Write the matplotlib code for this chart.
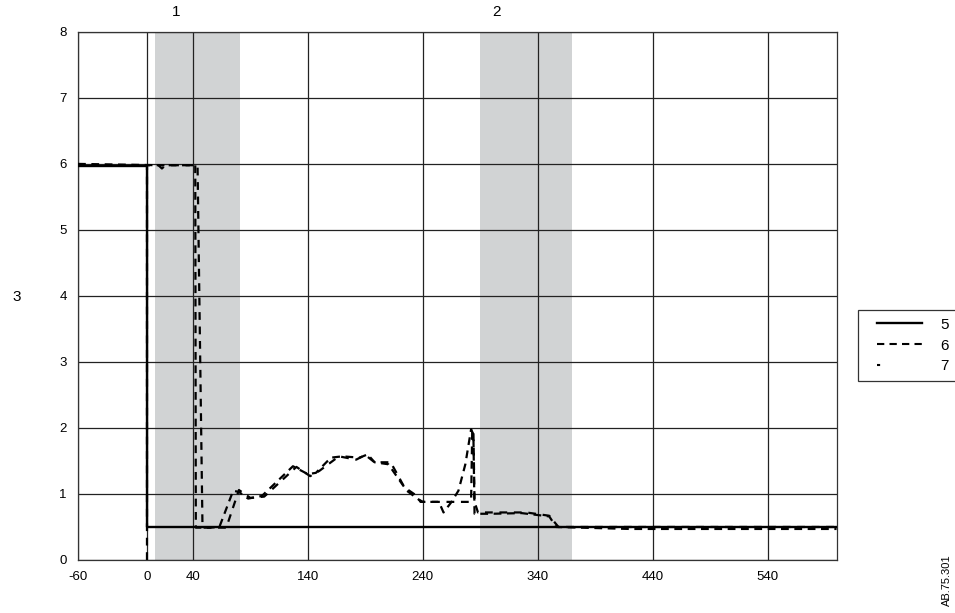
import matplotlib.pyplot as plt
from matplotlib.lines import Line2D
from matplotlib.legend_handler import HandlerLine2D

plt.rcParams['font.family'] = ['Liberation Sans', 'DejaVu Sans']
plt.rcParams['axes.unicode_minus'] = False

# series 5 (solid)
x5 = [-60, 0, 0, 600]
y5 = [5.97, 5.97, 0.5, 0.5]

# series 6 (dashed)
x6 = [-60, 10, 13, 16, 42, 42.5, 55, 63, 75, 80, 88, 100, 127, 140, 147, 160, 170,
      185, 192, 198, 210, 218, 226, 236, 240, 254, 258, 265, 271, 277, 282, 284,
      285, 300, 326, 350, 356, 420, 600]
y6 = [6.0, 5.98, 5.93, 5.98, 5.98, 0.49, 0.49, 0.5, 1.05, 1.03, 0.93, 0.97, 1.42,
      1.3, 1.32, 1.55, 1.57, 1.55, 1.6, 1.48, 1.45, 1.25, 1.05, 0.92, 0.88, 0.88,
      0.72, 0.88, 1.05, 1.45, 1.98, 1.9, 0.7, 0.7, 0.71, 0.66, 0.5, 0.47, 0.47]

# series 7 (sparse dashes)
x7 = [0, 0, 44, 48.3, 69, 80, 90, 102, 130, 142, 150, 167, 182, 190, 198, 212,
      219, 224, 234, 238, 254, 282, 283, 284, 285, 288, 330, 350, 358, 600]
y7 = [0, 5.98, 5.98, 0.49, 0.49, 1.06, 0.94, 0.96, 1.41, 1.27, 1.35, 1.57, 1.52,
      1.59, 1.48, 1.48, 1.26, 1.1, 0.98, 0.88, 0.88, 0.88, 1.97, 1.97, 0.88, 0.72,
      0.72, 0.67, 0.5, 0.5]

bands = [(7, 81), (290, 370)]
band_labels = ['1', '2']
band_label_x = [25, 304]
x_ticks = [-60, 0, 40, 140, 240, 340, 440, 540]
y_ticks = [0, 1, 2, 3, 4, 5, 6, 7, 8]
legend_labels = ['5', '6', '7']

fig = plt.figure(figsize=(9.55, 6.13), dpi=100)
ax = fig.add_axes([0.0817, 0.0865, 0.7943, 0.8615])

for (a, b) in bands:
    ax.axvspan(a, b, color='#d1d3d4', zorder=0, lw=0)

ax.plot(x5, y5, color='black', lw=1.7, zorder=3)
ax.plot(x6, y6, color='black', lw=1.6, linestyle=(0, (3.5, 2.5)), zorder=4)
ax.plot(x7, y7, color='black', lw=1.6, linestyle=(0, (3.5, 3)), zorder=4)

ax.set_xlim(-60, 600)
ax.set_ylim(0, 8)
ax.set_xticks(x_ticks)
ax.set_yticks(y_ticks)
ax.set_axisbelow(True)
ax.grid(True, color='#222222', lw=0.9)
ax.tick_params(length=0, labelsize=9.5, pad=8)
for s in ax.spines.values():
    s.set_color('#333333')
    s.set_linewidth(0.9)

for lab, xv in zip(band_labels, band_label_x):
    ax.annotate(lab, xy=(xv, 1), xycoords=('data', 'axes fraction'),
                xytext=(0, 9), textcoords='offset points', ha='center',
                va='bottom', fontsize=11)

fig.text(17 / 955, 1 - 297 / 613, '3', fontsize=11, ha='center', va='center')
fig.text(947 / 955, 1 - 580 / 613, 'AB.75.301', fontsize=8, rotation=90,
         ha='center', va='center')

handles = [
    Line2D([], [], color='black', lw=1.7),
    Line2D([], [], color='black', lw=1.5, linestyle=(0, (3.5, 2.5))),
    Line2D([], [], color='black', lw=1.5, linestyle=(0, (1.5, 40))),
]
hmap = {h: HandlerLine2D(xpad=0.75) for h in handles}
leg = fig.legend(handles, legend_labels, loc='upper left',
                 bbox_to_anchor=(858 / 955, 1 - 310 / 613),
                 bbox_transform=fig.transFigure, frameon=True, fancybox=False,
                 fontsize=11, handlelength=3.7, borderaxespad=0,
                 labelspacing=0.45, borderpad=0.5, handletextpad=1.2,
                 handler_map=hmap)
leg.get_frame().set_edgecolor('black')
leg.get_frame().set_linewidth(0.9)

fig.savefig('out.png', dpi=100)
